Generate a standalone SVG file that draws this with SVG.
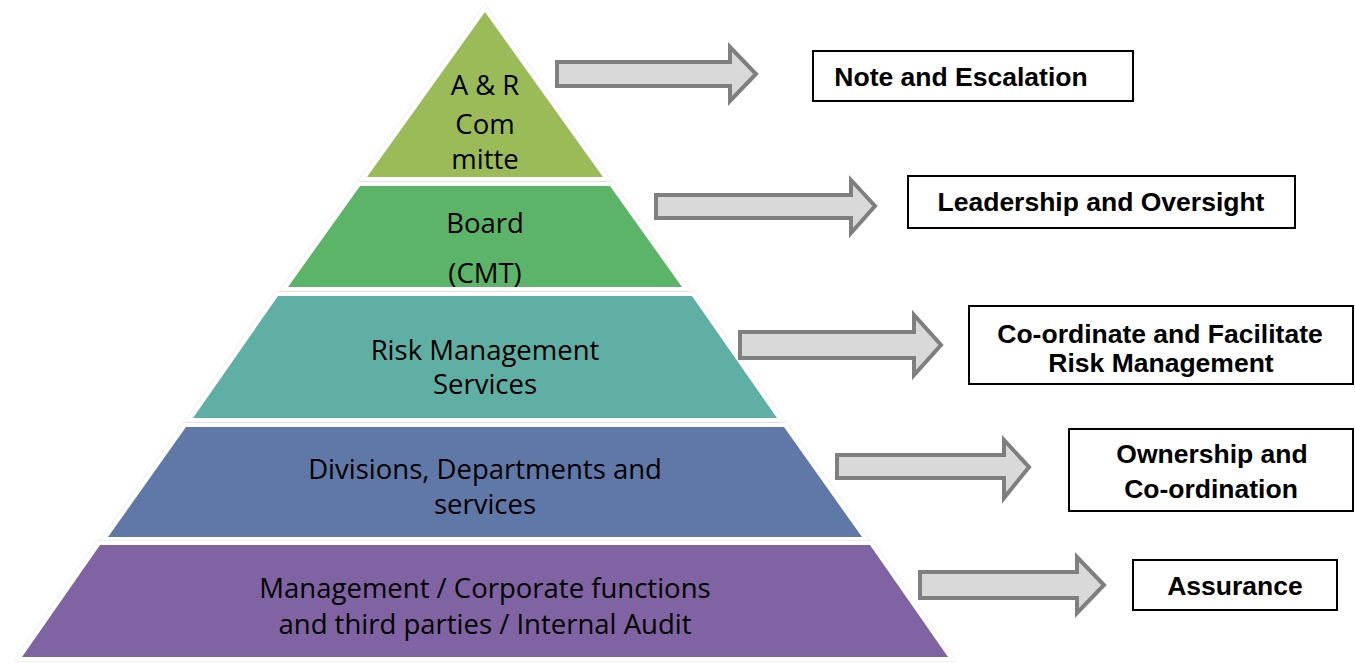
<svg xmlns="http://www.w3.org/2000/svg" width="1355" height="663" viewBox="0 0 1355 663">
  <defs>
    <filter id="halo" x="-5%" y="-5%" width="110%" height="110%">
      <feDropShadow dx="0" dy="0" stdDeviation="1.2" flood-color="#000" flood-opacity="0.18"/>
    </filter>
  </defs>
  <style>
    .tier { stroke: #fff; stroke-width: 8; stroke-linejoin: miter; paint-order: stroke; filter: url(#halo); }
    .tlabel { font-family: "Open Sans", "Liberation Sans", sans-serif; font-size: 27.5px; fill: #000; text-anchor: middle; }
    .arrow { fill: #d9d9d9; stroke: #7f7f7f; stroke-width: 4; stroke-linejoin: miter; }
    .box { fill: #fff; stroke: #000; stroke-width: 2; }
    .blabel { font-family: "Liberation Sans", Arial, sans-serif; font-size: 26.5px; font-weight: bold; fill: #000; text-anchor: middle; }
  </style>
  <rect width="1355" height="663" fill="#fff"/>

  <!-- pyramid tiers -->
  <g id="tier-committee">
    <polygon class="tier" fill="#9bbb59" points="485,12 603,177 367,177"/>
    <text class="tlabel" x="485" y="95">A &amp; R</text>
    <text class="tlabel" x="485" y="134">Com</text>
    <text class="tlabel" x="485" y="169">mitte</text>
  </g>
  <g id="tier-board">
    <polygon class="tier" fill="#5cb467" points="360,186 610,186 682,287 288,287"/>
    <text class="tlabel" x="485" y="233">Board</text>
    <text class="tlabel" x="485" y="283">(CMT)</text>
  </g>
  <g id="tier-risk">
    <polygon class="tier" fill="#5eafa5" points="278,296 692,296 777,418 193,418"/>
    <text class="tlabel" x="485" y="360">Risk Management</text>
    <text class="tlabel" x="485" y="394">Services</text>
  </g>
  <g id="tier-divisions">
    <polygon class="tier" fill="#6078a8" points="186,427 784,427 862,537 108,537"/>
    <text class="tlabel" x="485" y="479">Divisions, Departments and</text>
    <text class="tlabel" x="485" y="514">services</text>
  </g>
  <g id="tier-management">
    <polygon class="tier" fill="#8064a2" points="100,545 870,545 948,657 22,657"/>
    <text class="tlabel" x="485" y="598">Management / Corporate functions</text>
    <text class="tlabel" x="485" y="634">and third parties / Internal Audit</text>
  </g>

  <!-- block arrows -->
  <g id="connectors">
    <polygon class="arrow" points="557,62 730,62 730,47 756,74 730,101 730,86 557,86"/>
    <polygon class="arrow" points="656,195 851,195 851,180 875,206 851,233 851,218 656,218"/>
    <polygon class="arrow" points="740,332 914,332 914,315 941,345 914,375 914,358 740,358"/>
    <polygon class="arrow" points="837,455 1004,455 1004,440 1029,467 1004,498 1004,478 837,478"/>
    <polygon class="arrow" points="920,572 1077,572 1077,557 1104,585 1077,613 1077,598 920,598"/>
  </g>

  <!-- role boxes -->
  <g id="box-escalation">
    <rect class="box" x="813" y="51" width="320" height="50"/>
    <text class="blabel" x="961" y="86">Note and Escalation</text>
  </g>
  <g id="box-leadership">
    <rect class="box" x="908" y="176" width="387" height="52"/>
    <text class="blabel" x="1101" y="211">Leadership and Oversight</text>
  </g>
  <g id="box-coordinate">
    <rect class="box" x="969" y="306" width="384" height="78"/>
    <text class="blabel" x="1160" y="343">Co-ordinate and Facilitate</text>
    <text class="blabel" x="1161" y="372">Risk Management</text>
  </g>
  <g id="box-ownership">
    <rect class="box" x="1069" y="429" width="284" height="82"/>
    <text class="blabel" x="1212" y="463">Ownership and</text>
    <text class="blabel" x="1211" y="498">Co-ordination</text>
  </g>
  <g id="box-assurance">
    <rect class="box" x="1133" y="560" width="204" height="50"/>
    <text class="blabel" x="1235" y="595">Assurance</text>
  </g>
</svg>
